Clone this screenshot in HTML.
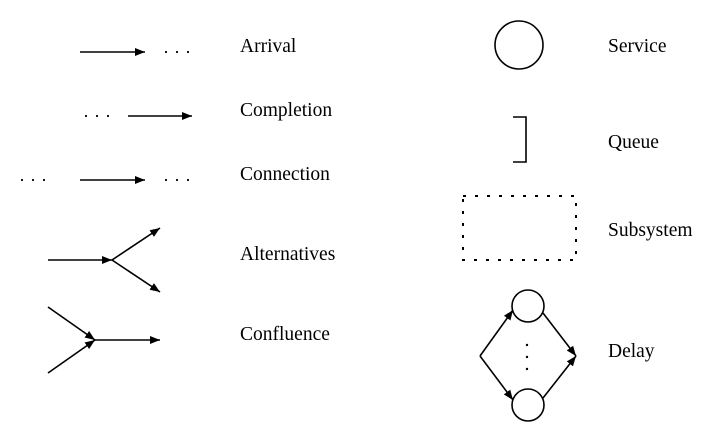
<!DOCTYPE html>
<html><head><style>body{margin:0;background:#fff}</style></head><body>
<svg width="710" height="433" xmlns="http://www.w3.org/2000/svg" style="display:block">
<defs><marker id="a" markerWidth="10" markerHeight="8" refX="10" refY="4" orient="auto" markerUnits="userSpaceOnUse"><path d="M0,0 L10,4 L0,8 Z" fill="#000"/></marker></defs>
<g stroke="#000" stroke-width="1.6" fill="none">
<line x1="80" y1="52" x2="145" y2="52" marker-end="url(#a)"/>
<line x1="128" y1="116" x2="192" y2="116" marker-end="url(#a)"/>
<line x1="80" y1="180" x2="145" y2="180" marker-end="url(#a)"/>
<line x1="48" y1="260" x2="112" y2="260" marker-end="url(#a)"/>
<line x1="112" y1="260" x2="160" y2="228" marker-end="url(#a)"/>
<line x1="112" y1="260" x2="160" y2="292" marker-end="url(#a)"/>
<line x1="48" y1="307" x2="95" y2="340" marker-end="url(#a)"/>
<line x1="48" y1="373" x2="95" y2="340" marker-end="url(#a)"/>
<line x1="95" y1="340" x2="160" y2="340" marker-end="url(#a)"/>
<circle cx="519" cy="45" r="24"/>
<path d="M513,117 H526 V162 H513"/>
<rect x="463" y="196" width="113" height="64" stroke-width="2" stroke-dasharray="3,9"/>
<circle cx="528" cy="306" r="16"/>
<circle cx="528" cy="405" r="16"/>
<line x1="480" y1="356" x2="513" y2="310" marker-end="url(#a)"/>
<line x1="480" y1="356" x2="513" y2="400" marker-end="url(#a)"/>
<line x1="543" y1="313" x2="576" y2="356" marker-end="url(#a)"/>
<line x1="543" y1="398" x2="576" y2="356" marker-end="url(#a)"/>
</g>
<g fill="#000">
<circle cx="527" cy="345" r="1.2"/><circle cx="527" cy="357" r="1.2"/><circle cx="527" cy="369" r="1.2"/>
<circle cx="166" cy="52" r="1.1"/><circle cx="177" cy="52" r="1.1"/><circle cx="188" cy="52" r="1.1"/>
<circle cx="86" cy="116" r="1.1"/><circle cx="97" cy="116" r="1.1"/><circle cx="108" cy="116" r="1.1"/>
<circle cx="22" cy="180" r="1.1"/><circle cx="33" cy="180" r="1.1"/><circle cx="44" cy="180" r="1.1"/>
<circle cx="166" cy="180" r="1.1"/><circle cx="177" cy="180" r="1.1"/><circle cx="188" cy="180" r="1.1"/>
</g>
<g font-family="Liberation Serif, serif" font-size="19.5" fill="#000">
<text x="240" y="52">Arrival</text>
<text x="240" y="116">Completion</text>
<text x="240" y="180">Connection</text>
<text x="240" y="260">Alternatives</text>
<text x="240" y="340">Confluence</text>
<text x="608" y="52">Service</text>
<text x="608" y="148">Queue</text>
<text x="608" y="236">Subsystem</text>
<text x="608" y="357">Delay</text>
</g>
</svg>
</body></html>
